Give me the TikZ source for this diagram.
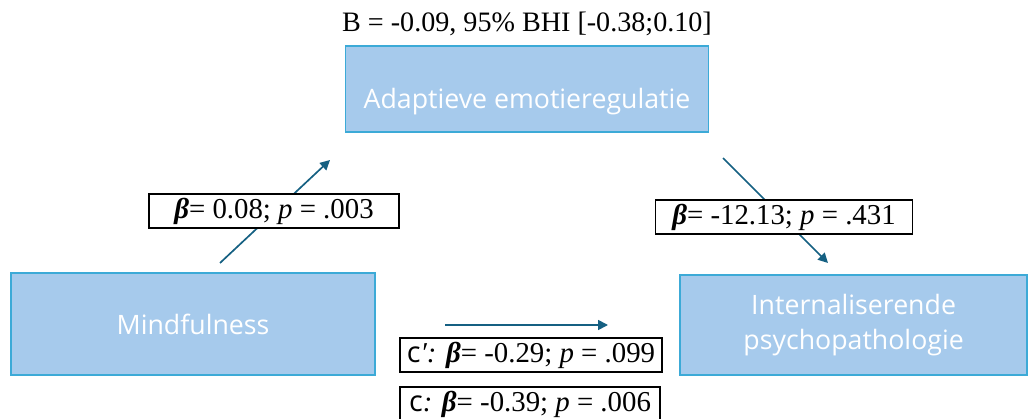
\documentclass[tikz,border=0pt]{standalone}
\usepackage{fontspec}
\setmainfont{Liberation Serif}
\newfontfamily\varfont{Open Sans}
\usepackage{xcolor}
\usetikzlibrary{arrows.meta, positioning, calc}
\definecolor{varfill}{RGB}{166, 202, 236}
\definecolor{varline}{RGB}{60, 170, 215}
\definecolor{pathblue}{RGB}{21, 96, 130}
\newcommand{\bet}{\textbf{\textit{β}}}

\begin{document}
\begin{tikzpicture}[
  varbox/.style={rectangle, draw=varline, fill=varfill, line width=1pt,
                 text=white, font=\varfont\fontsize{19}{25}\selectfont,
                 align=center, inner sep=0pt},
  coefbox/.style={rectangle, draw=black, fill=white, line width=1pt,
                  font=\fontsize{20.5}{22}\selectfont, inner sep=0pt,
                  minimum height=0.85cm},
  pathline/.style={-{Triangle[length=7pt, width=7pt]}, draw=pathblue, line width=1.2pt},
  >=Stealth
]
  \useasboundingbox (0,0) rectangle (25.725,10.45);

  % ── Variables ──────────────────────────────────────────────────────────────
  \node[varbox, minimum width=9.075cm, minimum height=2.15cm]
    (med) at (13.175, 8.225)
    {\raisebox{-0.5cm}[0pt][0pt]{Adaptieve emotieregulatie}};
  \node[varbox, minimum width=9.1cm, minimum height=2.55cm]
    (x) at (4.825, 2.35) {Mindfulness};
  \node[varbox, minimum width=8.675cm, minimum height=2.5cm]
    (y) at (21.34, 2.325) {Internaliserende\\psychopathologie};

  % ── Indirect effect ────────────────────────────────────────────────────────
  \node[font=\fontsize{20}{22}\selectfont] (ind) at (13.175, 9.85)
    {B = -0.09, 95\% BHI [-0.38;0.10]};

  % ── Paths ──────────────────────────────────────────────────────────────────
  \coordinate (a0) at (5.5, 3.875);
  \coordinate (a1) at (8.25, 6.45);
  \coordinate (b0) at (18.075, 6.5);
  \coordinate (b1) at (20.7, 3.875);
  \coordinate (c0) at (11.125, 2.325);
  \coordinate (c1) at (15.2, 2.325);

  \draw[pathline] (a0) -- (a1);
  \draw[pathline] (b0) -- (b1);
  \draw[pathline] (c0) -- (c1);

  % ── Coefficients ───────────────────────────────────────────────────────────
  \node[coefbox, minimum width=6.25cm] (pa) at (6.85, 5.175)
    {\bet= 0.08; \textit{p} = .003};
  \node[coefbox, minimum width=6.425cm] (pb) at (19.6, 5.025)
    {\bet= -12.13; \textit{p} = .431};
  \node[coefbox, minimum width=6.55cm] (pc1) at (13.275, 1.575)
    {{\varfont c}\textit{′:} \bet= -0.29; \textit{p} = .099};
  \node[coefbox, minimum width=6.5cm] (pc) at (13.25, 0.35)
    {{\varfont c}\textit{:} \bet= -0.39; \textit{p} = .006};
\end{tikzpicture}
\end{document}
